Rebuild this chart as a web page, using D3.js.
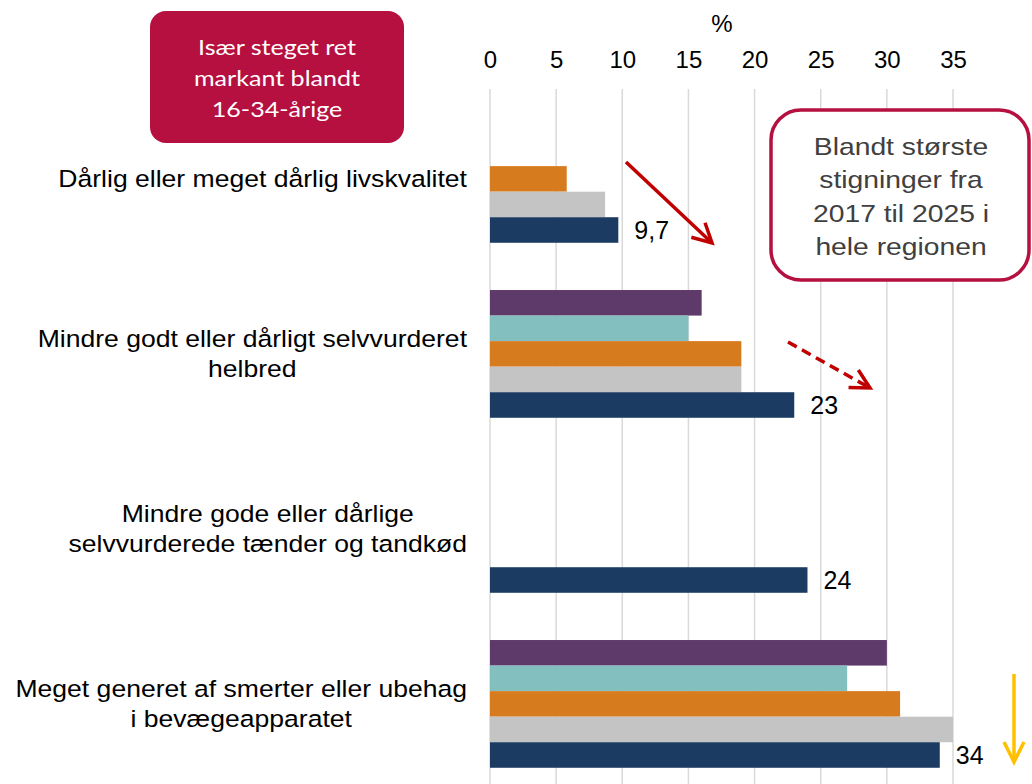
<!DOCTYPE html>
<html>
<head>
<meta charset="utf-8">
<script src="https://cdn.jsdelivr.net/npm/d3@7"></script>
<style>
  body { margin: 0; background: #fff; }
  svg { display: block; font-family: Arial, "Liberation Sans", sans-serif; }
</style>
</head>
<body>
<svg width="1032" height="784"></svg>
<script>
// chart data
var categories = [
    ["Dårlig eller meget dårlig livskvalitet"],
    ["Mindre godt eller dårligt selvvurderet", "helbred"],
    ["Mindre gode eller dårlige", "selvvurderede tænder og tandkød"],
    ["Meget generet af smerter eller ubehag", "i bevægeapparatet"]
];
var seriesNames = ["s1", "s2", "s3", "s4", "s5"];
var seriesColors = ["#5e3a6a", "#84bfbf", "#d77c1e", "#c4c4c4", "#1b3b62"];
var s1 = [null, 16, null, 30];
var s2 = [null, 15, null, 27];
var s3 = [5.8, 19, null, 31];
var s4 = [8.7, 19, null, 35];
var s5 = [9.7, 23, 24, 34];
var labelValues = ["9,7", "23", "24", "34"];
var xTicks = [0, 5, 10, 15, 20, 25, 30, 35];

var leftNote = ["Især steget ret", "markant blandt", "16-34-årige"];
var rightNote = ["Blandt største", "stigninger fra", "2017 til 2025 i", "hele regionen"];

(function() {
    var svg = d3.select("svg");
    var allSeries = [s1, s2, s3, s4, s5];
    var stretch = 1.14; // the slide text is a bit wider than plain Arial

    var x = d3.scaleLinear().domain([0, 35]).range([490, 953]);

    var y0 = d3.scaleBand()
        .domain(d3.range(categories.length))
        .range([91.4, 791.4])
        .paddingInner(0.27)
        .paddingOuter(0.135);

    var y1 = d3.scaleBand()
        .domain(seriesNames)
        .range([0, y0.bandwidth()]);

    // centred multi-line text, widened a little around its centre
    function block(cx, firstY, lineH, lines, size, fill, family) {
        var g = svg.append("g").attr("transform", "translate(" + cx + ",0) scale(" + stretch + ",1)");
        var t = g.append("text")
            .attr("text-anchor", "middle")
            .style("font-size", size + "px")
            .style("fill", fill);
        if (family) t.style("font-family", family);
        lines.forEach(function(l, i) {
            t.append("tspan").attr("x", 0).attr("y", firstY + i * lineH).text(l);
        });
        return t;
    }

    // gridlines + tick labels
    var axis = d3.axisTop(x).tickValues(xTicks).tickSize(0).tickPadding(0);
    var gx = svg.append("g").attr("transform", "translate(0,68)").call(axis);
    gx.select(".domain").remove();
    gx.selectAll("text")
        .attr("dy", 0)
        .style("font-family", "Arial, 'Liberation Sans', sans-serif")
        .style("font-size", "24px")
        .style("fill", "#000");

    svg.append("g").selectAll("line")
        .data(xTicks)
        .enter().append("line")
        .attr("x1", function(d) { return x(d); })
        .attr("x2", function(d) { return x(d); })
        .attr("y1", 89)
        .attr("y2", 784)
        .attr("stroke", "#d9d9d9")
        .attr("stroke-width", 1.5);

    svg.append("text")
        .attr("x", 722).attr("y", 32)
        .attr("text-anchor", "middle")
        .style("font-size", "24px")
        .text("%");

    // bars
    var rows = [];
    categories.forEach(function(c, ci) {
        allSeries.forEach(function(s, si) {
            if (s[ci] != null) rows.push({ ci: ci, si: si, v: s[ci] });
        });
    });

    svg.append("g").selectAll("rect")
        .data(rows)
        .enter().append("rect")
        .attr("x", x(0))
        .attr("y", function(d) { return y0(d.ci) + y1(seriesNames[d.si]); })
        .attr("width", function(d) { return x(d.v) - x(0); })
        .attr("height", y1.bandwidth())
        .attr("fill", function(d) { return seriesColors[d.si]; });

    // value labels on the last series
    svg.append("g").selectAll("text")
        .data(s5)
        .enter().append("text")
        .attr("x", function(d) { return x(d) + 16; })
        .attr("y", function(d, i) { return y0(i) + y1("s5") + y1.bandwidth() / 2 + 9; })
        .style("font-size", "25px")
        .text(function(d, i) { return labelValues[i]; });

    // category labels, centred block that ends at x=467
    categories.forEach(function(lines, ci) {
        var mid = y0(ci) + y0.bandwidth() / 2;
        var first = mid - (lines.length - 1) * 15 + 8;
        var t = block(0, first, 30, lines, 23.3, "#000");
        var w = 0;
        t.selectAll("tspan").each(function() { w = Math.max(w, this.getComputedTextLength()); });
        d3.select(t.node().parentNode)
            .attr("transform", "translate(" + (467 - w * stretch / 2) + ",0) scale(" + stretch + ",1)");
    });

    // left note box
    svg.append("rect")
        .attr("x", 150).attr("y", 11)
        .attr("width", 254).attr("height", 132)
        .attr("rx", 16)
        .attr("fill", "#b5103f");
    block(277, 55, 31, leftNote, 22, "#fff", "Lato, 'Open Sans', sans-serif");

    // right note box
    svg.append("rect")
        .attr("x", 771).attr("y", 110)
        .attr("width", 258).attr("height", 170)
        .attr("rx", 30)
        .attr("fill", "#fff")
        .attr("stroke", "#b5103f")
        .attr("stroke-width", 3.5);
    block(901, 155, 33.5, rightNote, 24.8, "#404040");

    // arrows, open heads drawn as two short strokes
    function arrow(x1, y1, x2, y2, color, len, half, dash) {
        var g = svg.append("g")
            .attr("stroke", color).attr("stroke-width", 3.5)
            .attr("fill", "none").attr("stroke-linecap", "butt");
        var ln = g.append("line")
            .attr("x1", x1).attr("y1", y1).attr("x2", x2).attr("y2", y2);
        if (dash) ln.attr("stroke-dasharray", dash);
        var a = Math.atan2(y2 - y1, x2 - x1);
        var bx = x2 - len * Math.cos(a), by = y2 - len * Math.sin(a);
        var px = -Math.sin(a) * half, py = Math.cos(a) * half;
        g.append("path")
            .attr("stroke-linejoin", "miter")
            .attr("d", "M" + (bx + px) + "," + (by + py) + "L" + x2 + "," + y2 + "L" + (bx - px) + "," + (by - py));
    }
    arrow(626, 162, 712, 243, "#c00000", 19, 10);
    arrow(788, 342, 870, 388, "#c00000", 19, 10, "10,6");
    arrow(1014, 674, 1014, 762, "#ffc000", 20, 10);
})();
</script>
</body>
</html>
